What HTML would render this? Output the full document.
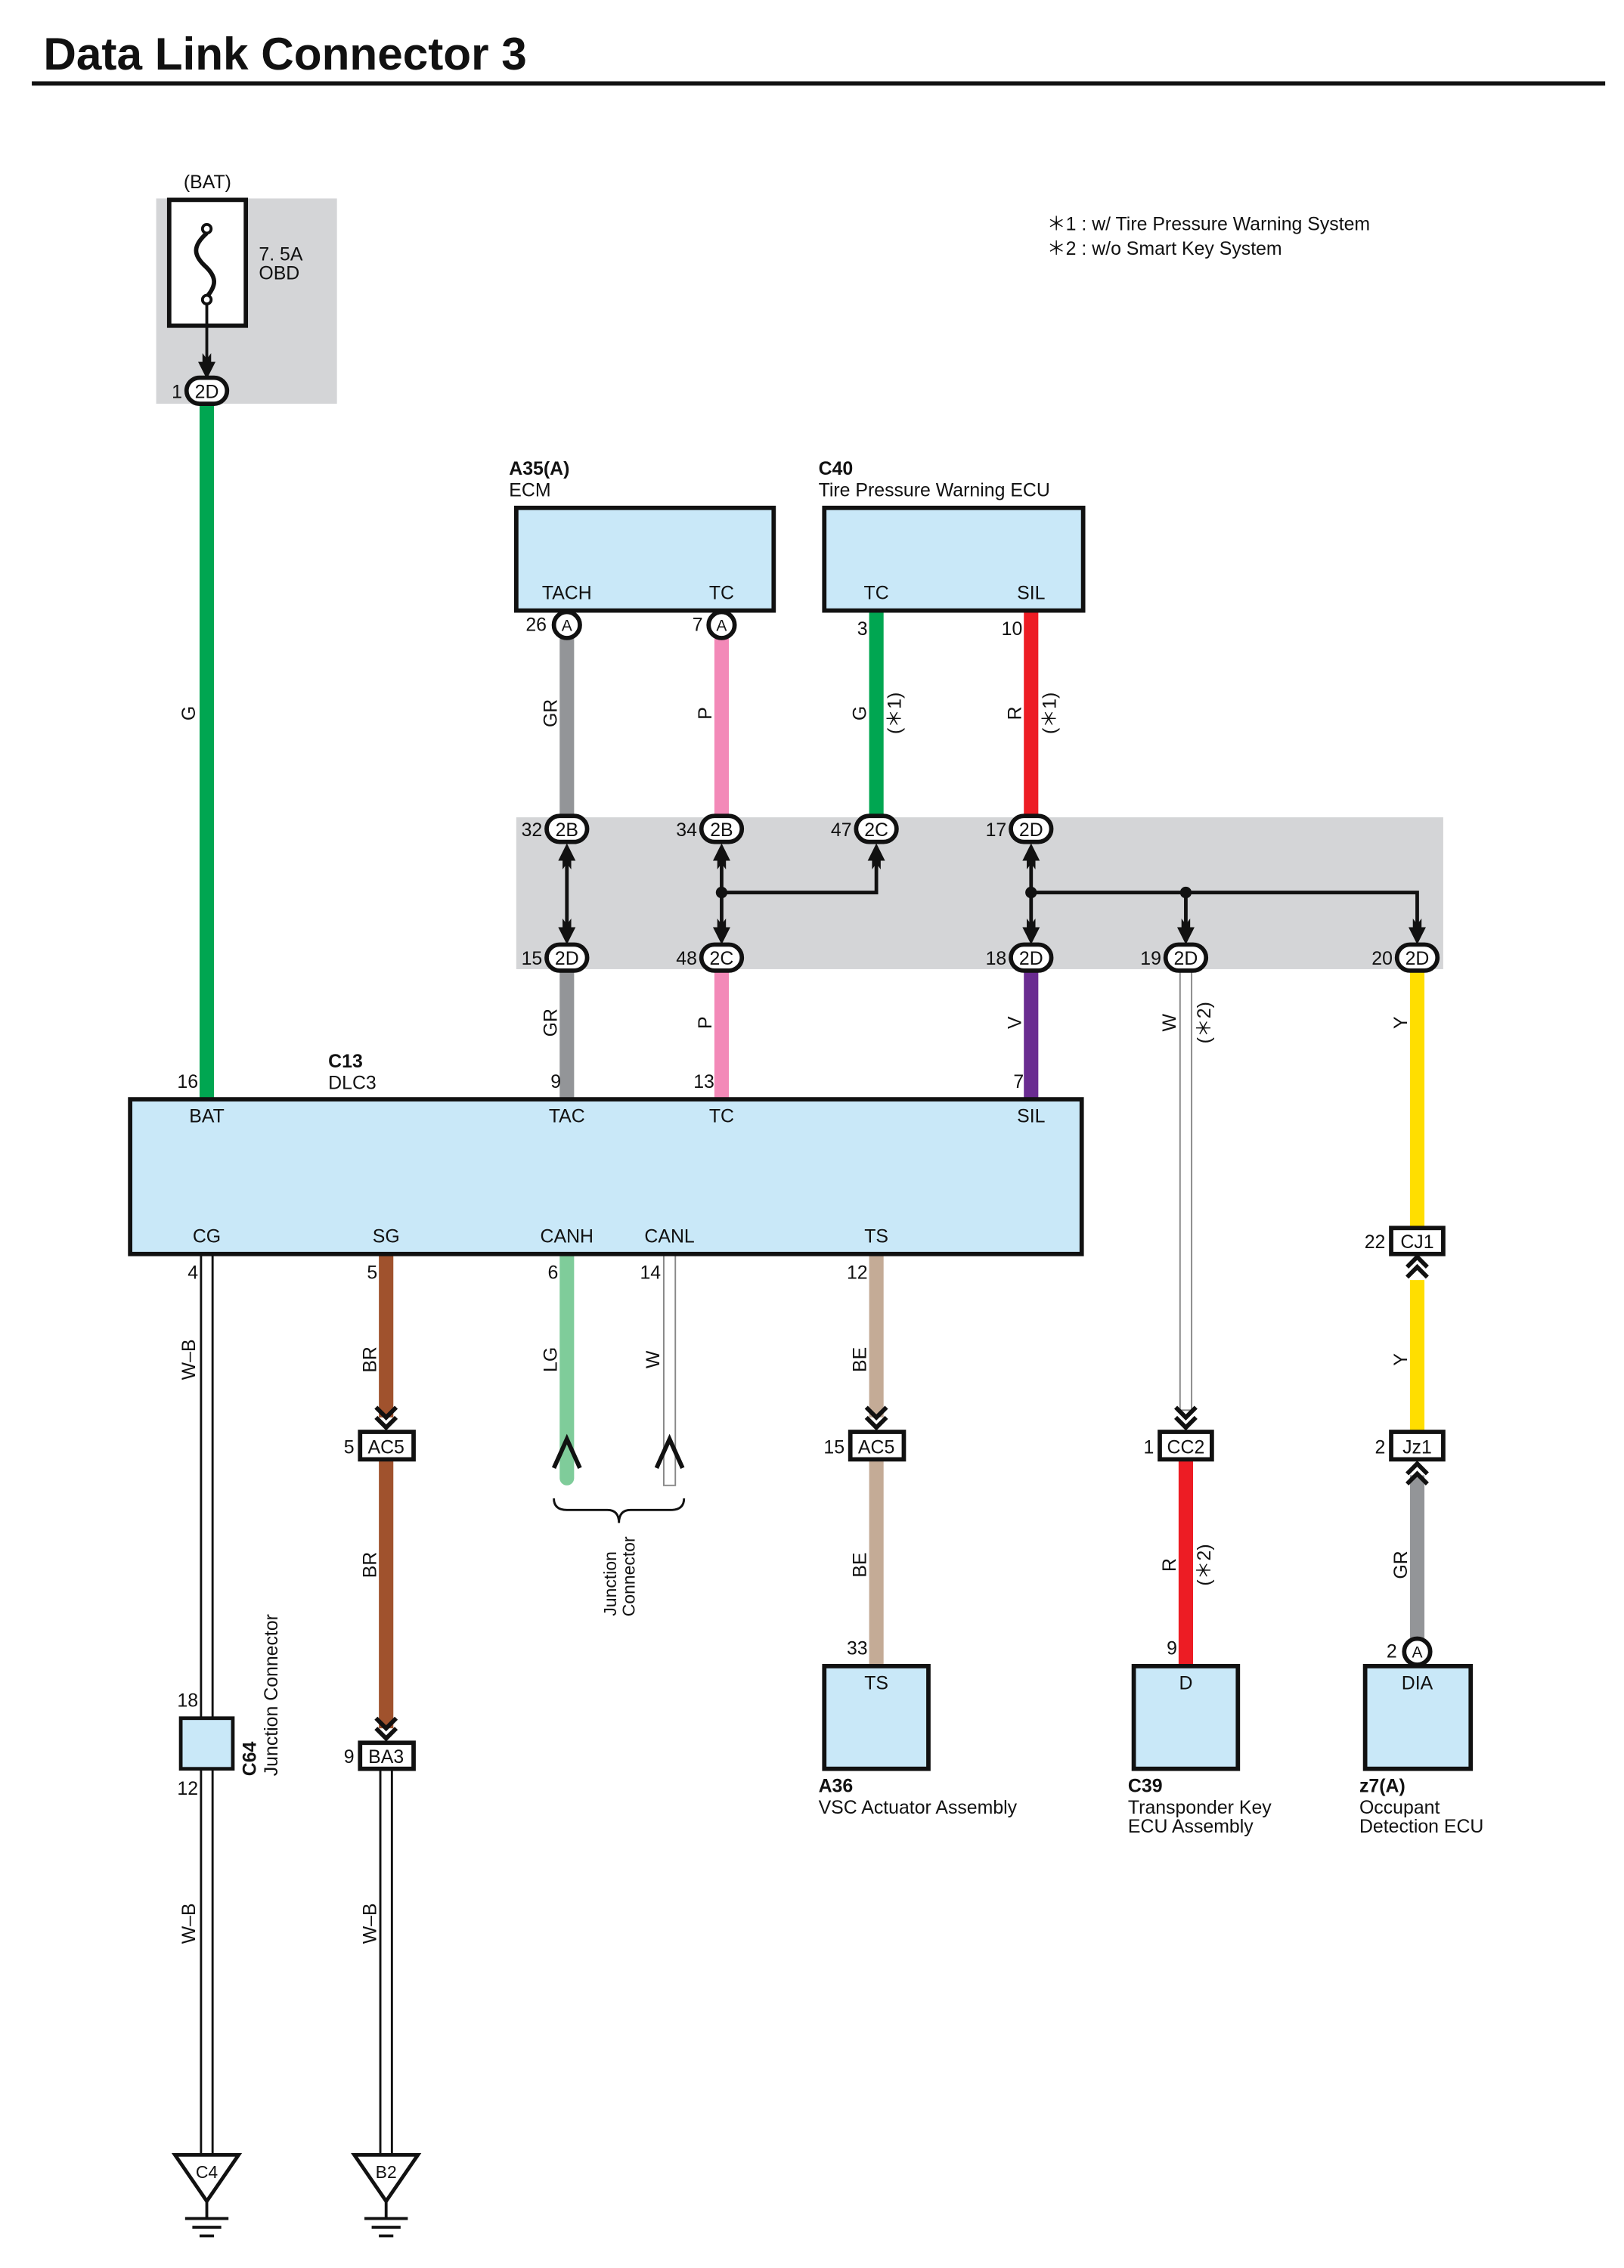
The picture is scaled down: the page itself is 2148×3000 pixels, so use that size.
<!DOCTYPE html>
<html><head><meta charset="utf-8"><style>
html,body{margin:0;padding:0;background:#fff}
svg{display:block}
text{font-family:"Liberation Sans",sans-serif;font-size:13px;fill:#111}
.b{font-weight:bold}
.c{text-anchor:middle}
.r{text-anchor:end}
</style></head><body>
<svg width="2148" height="3000" viewBox="0 0 1123 1568" xmlns="http://www.w3.org/2000/svg">
<defs>
<g id="dn"><polygon points="0,0 -6,-12 -3,-12 -3,-18 0,-14 3,-18 3,-12 6,-12" fill="#111"/></g>
<g id="up"><polygon points="0,0 -6,12 -3,12 -3,18 0,14 3,18 3,12 6,12" fill="#111"/></g>
<g id="chd"><polyline points="-7,-15 0,-8 7,-15" fill="none" stroke="#111" stroke-width="3"/><polyline points="-7,-8 0,-1 7,-8" fill="none" stroke="#111" stroke-width="3"/></g>
<g id="chu"><polyline points="-7,15 0,8 7,15" fill="none" stroke="#111" stroke-width="3"/><polyline points="-7,8 0,1 7,8" fill="none" stroke="#111" stroke-width="3"/></g>
</defs>
<text x="30" y="48" class="b" style="font-size:31.5px">Data Link Connector 3</text>
<rect x="22" y="56" width="1088" height="3" fill="#111"/>

<text x="724" y="159">＊1 : w/ Tire Pressure Warning System</text>
<text x="724" y="176">＊2 : w/o Smart Key System</text>

<!-- fuse -->
<rect x="108" y="137" width="125" height="142" fill="#d4d5d7"/>
<text x="127" y="130">(BAT)</text>
<rect x="117" y="138" width="53" height="87" fill="#fff" stroke="#111" stroke-width="3"/>
<path d="M143,161 C133,170 134,176 141,183 C150,191 150,197 143,205" fill="none" stroke="#111" stroke-width="3"/>
<circle cx="143" cy="158" r="3" fill="#fff" stroke="#111" stroke-width="2"/>
<circle cx="143" cy="207" r="3" fill="#fff" stroke="#111" stroke-width="2"/>
<line x1="143" y1="210" x2="143" y2="252" stroke="#111" stroke-width="2"/>
<use href="#dn" x="143" y="262"/>
<text x="179" y="180">7. 5A</text><text x="179" y="193">OBD</text>

<!-- wires -->
<g stroke-width="10" fill="none">
<line x1="143" y1="278" x2="143" y2="760" stroke="#00a651"/>
<line x1="392" y1="440" x2="392" y2="565" stroke="#939598"/>
<line x1="499" y1="440" x2="499" y2="565" stroke="#f389b8"/>
<line x1="606" y1="422" x2="606" y2="565" stroke="#00a651"/>
<line x1="713" y1="422" x2="713" y2="565" stroke="#ed1c24"/>
<line x1="392" y1="670" x2="392" y2="760" stroke="#939598"/>
<line x1="499" y1="670" x2="499" y2="760" stroke="#f389b8"/>
<line x1="713" y1="670" x2="713" y2="760" stroke="#6a2c91"/>
<line x1="980" y1="670" x2="980" y2="850" stroke="#ffde00"/>
<line x1="980" y1="885" x2="980" y2="990" stroke="#ffde00"/>
<line x1="980" y1="1020" x2="980" y2="1134" stroke="#939598"/>
<line x1="267" y1="867" x2="267" y2="980" stroke="#a0522d"/>
<line x1="267" y1="1010" x2="267" y2="1195" stroke="#a0522d"/>
<line x1="606" y1="867" x2="606" y2="980" stroke="#c4ab96"/>
<line x1="606" y1="1010" x2="606" y2="1152" stroke="#c4ab96"/>
<line x1="820" y1="1010" x2="820" y2="1152" stroke="#ed1c24"/>
<line x1="392" y1="867" x2="392" y2="1022" stroke="#7fcc9a" stroke-linecap="round"/>
</g>
<!-- double thin wires -->
<g fill="#fff">
<rect x="139" y="867" width="8" height="623" stroke="#111" stroke-width="1.5"/>
<rect x="263" y="1223" width="8" height="267" stroke="#111" stroke-width="1.5"/>
<rect x="459" y="867" width="8" height="160" stroke="#888" stroke-width="1"/>
<rect x="816" y="670" width="8" height="305" stroke="#888" stroke-width="1"/>
</g>

<!-- ECM -->
<text x="352" y="328" class="b">A35(A)</text><text x="352" y="343">ECM</text>
<rect x="357" y="351" width="178" height="71" fill="#c9e8f8" stroke="#111" stroke-width="3"/>
<text x="392" y="414" class="c">TACH</text><text x="499" y="414" class="c">TC</text>
<circle cx="392" cy="432" r="9" fill="#fff" stroke="#111" stroke-width="3"/><text x="392" y="436" class="c" style="font-size:11px">A</text>
<circle cx="499" cy="432" r="9" fill="#fff" stroke="#111" stroke-width="3"/><text x="499" y="436" class="c" style="font-size:11px">A</text>
<text x="378" y="436" class="r">26</text><text x="486" y="436" class="r">7</text>
<!-- C40 -->
<text x="566" y="328" class="b">C40</text><text x="566" y="343">Tire Pressure Warning ECU</text>
<rect x="570" y="351" width="179" height="71" fill="#c9e8f8" stroke="#111" stroke-width="3"/>
<text x="606" y="414" class="c">TC</text><text x="713" y="414" class="c">SIL</text>
<text x="600" y="439" class="r">3</text><text x="707" y="439" class="r">10</text>

<!-- wire labels -->
<g>
<text transform="translate(135,493) rotate(-90)" class="c">G</text>
<text transform="translate(385,493) rotate(-90)" class="c">GR</text>
<text transform="translate(492,493) rotate(-90)" class="c">P</text>
<text transform="translate(599,493) rotate(-90)" class="c">G</text>
<text transform="translate(623,493) rotate(-90)" class="c">(＊1)</text>
<text transform="translate(706,493) rotate(-90)" class="c">R</text>
<text transform="translate(730,493) rotate(-90)" class="c">(＊1)</text>
<text transform="translate(385,707) rotate(-90)" class="c">GR</text>
<text transform="translate(492,707) rotate(-90)" class="c">P</text>
<text transform="translate(706,707) rotate(-90)" class="c">V</text>
<text transform="translate(813,707) rotate(-90)" class="c">W</text>
<text transform="translate(837,707) rotate(-90)" class="c">(＊2)</text>
<text transform="translate(973,707) rotate(-90)" class="c">Y</text>
<text transform="translate(135,940) rotate(-90)" class="c">W–B</text>
<text transform="translate(260,940) rotate(-90)" class="c">BR</text>
<text transform="translate(385,940) rotate(-90)" class="c">LG</text>
<text transform="translate(456,940) rotate(-90)" class="c">W</text>
<text transform="translate(599,940) rotate(-90)" class="c">BE</text>
<text transform="translate(973,940) rotate(-90)" class="c">Y</text>
<text transform="translate(260,1082) rotate(-90)" class="c">BR</text>
<text transform="translate(599,1082) rotate(-90)" class="c">BE</text>
<text transform="translate(813,1082) rotate(-90)" class="c">R</text>
<text transform="translate(837,1082) rotate(-90)" class="c">(＊2)</text>
<text transform="translate(973,1082) rotate(-90)" class="c">GR</text>
<text transform="translate(135,1330) rotate(-90)" class="c">W–B</text>
<text transform="translate(260,1330) rotate(-90)" class="c">W–B</text>
</g>

<!-- junction block -->
<rect x="357" y="565" width="641" height="105" fill="#d4d5d7"/>
<g stroke="#111" stroke-width="2.5" fill="none">
<line x1="392" y1="595" x2="392" y2="640"/>
<line x1="499" y1="595" x2="499" y2="640"/>
<polyline points="499,617 606,617 606,595"/>
<line x1="713" y1="595" x2="713" y2="640"/>
<polyline points="713,617 980,617 980,640"/>
<line x1="820" y1="617" x2="820" y2="640"/>
</g>
<circle cx="499" cy="617" r="4" fill="#111"/><circle cx="713" cy="617" r="4" fill="#111"/><circle cx="820" cy="617" r="4" fill="#111"/>
<use href="#up" x="392" y="583"/><use href="#up" x="499" y="583"/><use href="#up" x="606" y="583"/><use href="#up" x="713" y="583"/>
<use href="#dn" x="392" y="653"/><use href="#dn" x="499" y="653"/><use href="#dn" x="713" y="653"/><use href="#dn" x="820" y="653"/><use href="#dn" x="980" y="653"/>
<g fill="#fff" stroke="#111" stroke-width="3">
<rect x="378" y="564" width="28" height="18" rx="9"/><rect x="485" y="564" width="28" height="18" rx="9"/><rect x="592" y="564" width="28" height="18" rx="9"/><rect x="699" y="564" width="28" height="18" rx="9"/>
<rect x="378" y="653" width="28" height="18" rx="9"/><rect x="485" y="653" width="28" height="18" rx="9"/><rect x="699" y="653" width="28" height="18" rx="9"/><rect x="806" y="653" width="28" height="18" rx="9"/><rect x="966" y="653" width="28" height="18" rx="9"/>
<rect x="129" y="261" width="28" height="18" rx="9"/>
</g>
<g style="font-size:12px">
<text x="392" y="578" class="c">2B</text><text x="499" y="578" class="c">2B</text><text x="606" y="578" class="c">2C</text><text x="713" y="578" class="c">2D</text>
<text x="392" y="667" class="c">2D</text><text x="499" y="667" class="c">2C</text><text x="713" y="667" class="c">2D</text><text x="820" y="667" class="c">2D</text><text x="980" y="667" class="c">2D</text>
<text x="143" y="275" class="c">2D</text>
</g>
<text x="375" y="578" class="r">32</text><text x="482" y="578" class="r">34</text><text x="589" y="578" class="r">47</text><text x="696" y="578" class="r">17</text>
<text x="375" y="667" class="r">15</text><text x="482" y="667" class="r">48</text><text x="696" y="667" class="r">18</text><text x="803" y="667" class="r">19</text><text x="963" y="667" class="r">20</text>
<text x="126" y="275" class="r">1</text>

<!-- DLC3 -->
<text x="227" y="738" class="b">C13</text><text x="227" y="753">DLC3</text>
<text x="137" y="752" class="r">16</text><text x="388" y="752" class="r">9</text><text x="494" y="752" class="r">13</text><text x="708" y="752" class="r">7</text>
<rect x="90" y="760" width="658" height="107" fill="#c9e8f8" stroke="#111" stroke-width="3"/>
<text x="143" y="776" class="c">BAT</text><text x="392" y="776" class="c">TAC</text><text x="499" y="776" class="c">TC</text><text x="713" y="776" class="c">SIL</text>
<text x="143" y="859" class="c">CG</text><text x="267" y="859" class="c">SG</text><text x="392" y="859" class="c">CANH</text><text x="463" y="859" class="c">CANL</text><text x="606" y="859" class="c">TS</text>
<text x="137" y="884" class="r">4</text><text x="261" y="884" class="r">5</text><text x="386" y="884" class="r">6</text><text x="457" y="884" class="r">14</text><text x="600" y="884" class="r">12</text>

<!-- chevrons and boxes -->
<use href="#chd" x="267" y="988"/><use href="#chd" x="606" y="988"/><use href="#chd" x="820" y="988"/><use href="#chd" x="267" y="1203"/>
<use href="#chu" x="980" y="868"/><use href="#chu" x="980" y="1011"/>
<polyline points="383,1015 392,995 401,1015" fill="none" stroke="#111" stroke-width="3"/>
<polyline points="454,1015 463,995 472,1015" fill="none" stroke="#111" stroke-width="3"/>
<path d="M383,1036 Q383,1044 392,1044 L420,1044 Q428,1044 428,1053 Q428,1044 436,1044 L464,1044 Q473,1044 473,1036" fill="none" stroke="#111" stroke-width="1.5"/>
<text transform="translate(426,1095) rotate(-90)" class="c" style="font-size:12px">Junction</text>
<text transform="translate(439,1090) rotate(-90)" class="c" style="font-size:12px">Connector</text>

<g fill="#fff" stroke="#111" stroke-width="3">
<rect x="249" y="990" width="37" height="19"/><rect x="588" y="990" width="37" height="19"/><rect x="802" y="990" width="36" height="19"/>
<rect x="962" y="849" width="36" height="18"/><rect x="962" y="990" width="36" height="19"/>
<rect x="249" y="1205" width="37" height="18"/>
</g>
<text x="267" y="1005" class="c">AC5</text><text x="606" y="1005" class="c">AC5</text><text x="820" y="1005" class="c">CC2</text>
<text x="980" y="863" class="c">CJ1</text><text x="980" y="1005" class="c">Jz1</text><text x="267" y="1219" class="c">BA3</text>
<text x="245" y="1005" class="r">5</text><text x="584" y="1005" class="r">15</text><text x="798" y="1005" class="r">1</text>
<text x="958" y="863" class="r">22</text><text x="958" y="1005" class="r">2</text><text x="245" y="1219" class="r">9</text>

<!-- C64 -->
<rect x="125" y="1188" width="36" height="35" fill="#c9e8f8" stroke="#111" stroke-width="2.5"/>
<text x="137" y="1180" class="r">18</text><text x="137" y="1241" class="r">12</text>
<text transform="translate(177,1228) rotate(-90)" class="b">C64</text>
<text transform="translate(192,1228) rotate(-90)">Junction Connector</text>

<!-- bottom components -->
<text x="600" y="1144" class="r">33</text>
<rect x="570" y="1152" width="72" height="71" fill="#c9e8f8" stroke="#111" stroke-width="3"/>
<text x="606" y="1168" class="c">TS</text>
<text x="566" y="1239" class="b">A36</text><text x="566" y="1254">VSC Actuator Assembly</text>

<text x="814" y="1144" class="r">9</text>
<rect x="784" y="1152" width="72" height="71" fill="#c9e8f8" stroke="#111" stroke-width="3"/>
<text x="820" y="1168" class="c">D</text>
<text x="780" y="1239" class="b">C39</text><text x="780" y="1254">Transponder Key</text><text x="780" y="1267">ECU Assembly</text>

<circle cx="980" cy="1142" r="9" fill="#fff" stroke="#111" stroke-width="3"/><text x="980" y="1146" class="c" style="font-size:11px">A</text>
<text x="966" y="1146" class="r">2</text>
<rect x="944" y="1152" width="73" height="71" fill="#c9e8f8" stroke="#111" stroke-width="3"/>
<text x="980" y="1168" class="c">DIA</text>
<text x="940" y="1239" class="b">z7(A)</text><text x="940" y="1254">Occupant</text><text x="940" y="1267">Detection ECU</text>

<!-- grounds -->
<g stroke="#111" stroke-width="2.5" fill="#fff">
<polygon points="121,1490 165,1490 143,1522"/>
<polygon points="245,1490 289,1490 267,1522"/>
</g>
<g stroke="#111" stroke-width="2">
<line x1="143" y1="1522" x2="143" y2="1534"/><line x1="128" y1="1534" x2="158" y2="1534"/><line x1="133" y1="1540" x2="153" y2="1540"/><line x1="138" y1="1546" x2="148" y2="1546"/>
<line x1="267" y1="1522" x2="267" y2="1534"/><line x1="252" y1="1534" x2="282" y2="1534"/><line x1="257" y1="1540" x2="277" y2="1540"/><line x1="262" y1="1546" x2="272" y2="1546"/>
</g>
<text x="143" y="1506" class="c" style="font-size:12px">C4</text>
<text x="267" y="1506" class="c" style="font-size:12px">B2</text>
</svg>
</body></html>
